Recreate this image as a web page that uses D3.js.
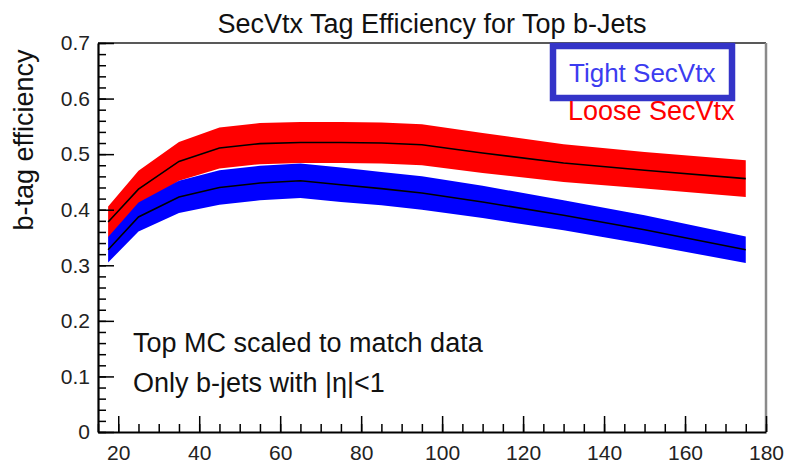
<!DOCTYPE html>
<html>
<head>
<meta charset="utf-8">
<script src="https://cdn.jsdelivr.net/npm/d3@7"></script>
<style>
  html, body { margin: 0; padding: 0; background: #fff; }
  svg { display: block; font-family: "Liberation Sans", Arial, Helvetica, sans-serif; }
</style>
</head>
<body>
<svg id="chart" width="785" height="463"></svg>
<script>
// Jet pT bin centres (GeV) and tag efficiencies with their uncertainty half-widths
const ptBins    = [17.5, 25, 35, 45, 55, 65, 75, 85, 95, 110, 130, 150, 175];
const looseEff  = [0.378, 0.437, 0.487, 0.511, 0.519, 0.521, 0.521, 0.520, 0.517, 0.502, 0.484, 0.471, 0.456];
const looseErr  = [0.028, 0.033, 0.035, 0.037, 0.037, 0.037, 0.037, 0.037, 0.037, 0.036, 0.034, 0.033, 0.033];
const tightEff  = [0.328, 0.387, 0.423, 0.440, 0.448, 0.452, 0.445, 0.438, 0.430, 0.414, 0.390, 0.364, 0.328];
const tightErr  = [0.023, 0.026, 0.029, 0.031, 0.031, 0.031, 0.031, 0.030, 0.030, 0.029, 0.027, 0.026, 0.024];

const xTickValues = [20, 40, 60, 80, 100, 120, 140, 160, 180];
const yTickValues = [0, 0.1, 0.2, 0.3, 0.4, 0.5, 0.6, 0.7];
const yTickLabels = ["0", "0.1", "0.2", "0.3", "0.4", "0.5", "0.6", "0.7"];

(function draw() {
  const svg = d3.select("#chart");
  const W = 785, H = 463;
  svg.append("rect").attr("width", W).attr("height", H).attr("fill", "#fff");

  const plotL = 98, plotR = 766, plotT = 43, plotB = 432;
  const x = d3.scaleLinear().domain([15, 180]).range([plotL, plotR]);
  const y = d3.scaleLinear().domain([0, 0.7]).range([plotB, plotT]);

  // Uncertainty bands
  function band(eff, err) {
    return ptBins.map((p, i) => ({ p, c: eff[i], lo: eff[i] - err[i], hi: eff[i] + err[i] }));
  }
  const area = d3.area().x(d => x(d.p)).y0(d => y(d.lo)).y1(d => y(d.hi));
  const line = d3.line().x(d => x(d.p)).y(d => y(d.c));

  const series = [
    { data: band(looseEff, looseErr), color: "#ff0000" },
    { data: band(tightEff, tightErr), color: "#0000ff" }
  ];
  series.forEach(s => {
    svg.append("path").attr("d", area(s.data)).attr("fill", s.color);
  });
  series.forEach(s => {
    svg.append("path").attr("d", line(s.data))
      .attr("fill", "none").attr("stroke", "#000").attr("stroke-width", 1.6);
  });

  // Frame: top and right edges
  svg.append("line").attr("x1", plotL).attr("x2", plotR).attr("y1", plotT).attr("y2", plotT)
    .attr("stroke", "#222").attr("stroke-width", 1.5);
  svg.append("line").attr("x1", plotR).attr("x2", plotR).attr("y1", plotT).attr("y2", plotB)
    .attr("stroke", "#8a8a8a").attr("stroke-width", 2.5);

  // X axis: minor ticks every 5, major ticks every 20, pointing inward
  const xMinor = d3.range(15, 181, 5);
  svg.append("g").attr("transform", `translate(0,${plotB})`)
    .call(d3.axisBottom(x).tickValues(xMinor).tickSize(-8).tickFormat(""))
    .call(g => g.select(".domain").remove())
    .call(g => g.selectAll(".tick line").attr("stroke-width", 1.5));
  const xAxis = svg.append("g").attr("transform", `translate(0,${plotB})`)
    .call(d3.axisBottom(x).tickValues(xTickValues).tickSize(-16).tickSizeOuter(0).tickPadding(13).tickFormat(d3.format("d")));
  xAxis.select(".domain").attr("stroke-width", 2.2);
  xAxis.selectAll(".tick line").attr("stroke-width", 1.5);
  xAxis.selectAll(".tick text").attr("font-size", 21).attr("fill", "#222")
    .attr("font-family", "Liberation Sans, Arial, sans-serif");

  // Y axis: minor ticks every 0.02, major every 0.1
  const yMinor = d3.range(0, 0.701, 0.02);
  svg.append("g").attr("transform", `translate(${plotL},0)`)
    .call(d3.axisLeft(y).tickValues(yMinor).tickSize(-8).tickFormat(""))
    .call(g => g.select(".domain").remove())
    .call(g => g.selectAll(".tick line").attr("stroke-width", 1.5));
  const yAxis = svg.append("g").attr("transform", `translate(${plotL},0)`)
    .call(d3.axisLeft(y).tickValues(yTickValues).tickSize(-16).tickSizeOuter(0).tickPadding(8)
      .tickFormat((d, i) => yTickLabels[i]));
  yAxis.select(".domain").attr("stroke-width", 2.2);
  yAxis.selectAll(".tick line").attr("stroke-width", 1.5);
  yAxis.selectAll(".tick text").attr("font-size", 21).attr("fill", "#222")
    .attr("font-family", "Liberation Sans, Arial, sans-serif");

  // Title and axis label
  svg.append("text").attr("x", 432).attr("y", 33).attr("text-anchor", "middle")
    .attr("font-size", 27).attr("fill", "#111")
    .text("SecVtx Tag Efficiency for Top b-Jets");
  svg.append("text").attr("transform", "translate(33,140) rotate(-90)")
    .attr("text-anchor", "middle").attr("font-size", 27).attr("fill", "#111")
    .text("b-tag efficiency");

  // Annotations
  svg.append("text").attr("x", 133).attr("y", 352).attr("font-size", 27).attr("fill", "#111")
    .text("Top MC scaled to match data");
  svg.append("text").attr("x", 133).attr("y", 392).attr("font-size", 27).attr("fill", "#111")
    .text("Only b-jets with |η|<1");

  // Legend
  svg.append("rect").attr("x", 553).attr("y", 46).attr("width", 179).attr("height", 52)
    .attr("fill", "#fff").attr("stroke", "#3434c8").attr("stroke-width", 6.5);
  svg.append("text").attr("x", 569).attr("y", 82).attr("font-size", 26).attr("fill", "#3c3cf0")
    .text("Tight SecVtx");
  svg.append("text").attr("x", 568).attr("y", 120).attr("font-size", 27).attr("fill", "#ff0000")
    .text("Loose SecVtx");
})();
</script>
</body>
</html>
